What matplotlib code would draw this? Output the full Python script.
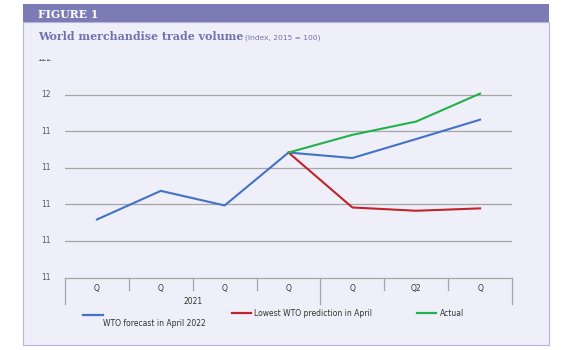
import matplotlib
matplotlib.use("Agg")
import matplotlib.pyplot as plt
from matplotlib.patches import Rectangle
from matplotlib.lines import Line2D
from matplotlib.transforms import Bbox, blended_transform_factory

# data
quarters = ["Q", "Q", "Q", "Q", "Q", "Q2", "Q"]
years = ["2021", ""]
forecast = [113.15, 114.72, 113.92, 116.82, 116.52, 117.56, 118.62]
lowest = [None, None, None, 116.82, 113.81, 113.63, 113.76]
actual = [None, None, None, 116.82, 117.79, 118.52, 120.05]
names = ["WTO forecast in April 2022", "Lowest WTO prediction in April", "Actual"]
colors = ["#4472c4", "#c1232b", "#22b14c"]
yticks = [110, 112, 114, 116, 118, 120, 122]
ytick_labels = ["11", "11", "11", "11", "11", "12", "122"]

W, H = 566, 350
fig = plt.figure(figsize=(W / 100, H / 100), dpi=100)
fig.patch.set_facecolor("white")

def fx(px):
    return px / W

def fy(py):
    return 1 - py / H

# panel + header band
fig.add_artist(Rectangle((fx(23), fy(345)), fx(526), (345 - 22) / H,
                         transform=fig.transFigure, facecolor="#eeeff8",
                         edgecolor="#b4b4e0", lw=0.8, zorder=-10))
fig.add_artist(Rectangle((fx(23), fy(22)), fx(526), 18 / H,
                         transform=fig.transFigure, facecolor="#7b7cb6",
                         edgecolor="none", zorder=-9))
fig.text(fx(38), fy(14), "FIGURE 1", color="white", fontsize=7.8,
         fontweight="bold", family="DejaVu Serif", va="center")
fig.text(fx(38), fy(37), "World merchandise trade volume", color="#7172b0",
         fontsize=7.9, fontweight="bold", family="DejaVu Serif", va="center")
fig.text(fx(245), fy(38), "(Index, 2015 = 100)", color="#7172b0",
         fontsize=5.4, va="center")

ax = fig.add_axes([fx(65), fy(277), fx(512 - 65), (277 - 58) / H])
ax.set_facecolor("none")
x = list(range(len(quarters)))
for vals, c in zip([forecast, lowest, actual], colors):
    xs = [i for i, v in zip(x, vals) if v is not None]
    ys = [v for v in vals if v is not None]
    ax.plot(xs, ys, color=c, lw=1.5, zorder=3)

ax.set_xlim(-0.5, len(quarters) - 0.5)
ax.set_ylim(yticks[0], yticks[-1])
for t in yticks[1:-1]:
    ax.axhline(t, color="#a6a6a6", lw=0.9, zorder=1)
for s in ax.spines.values():
    s.set_visible(False)
ax.set_xticks([])
ax.set_yticks([])

# y labels (top one cut off as in reference)
ylab_tr = blended_transform_factory(fig.transFigure, ax.transData)
for t, lab in zip(yticks, ytick_labels):
    txt = ax.text(fx(51), t, lab, transform=ylab_tr, ha="right", va="center",
                  fontsize=5.5, color="#595959", clip_on=False)
    if t == yticks[-1]:
        txt.set_clip_on(True)
        txt.set_clip_box(Bbox([[0, 0], [W, H - 59]]))

# category axis
xt = blended_transform_factory(ax.transData, fig.transFigure)
ax.plot([-0.5, len(quarters) - 0.5], [fy(278), fy(278)], transform=xt,
        color="#a6a6a6", lw=0.9, clip_on=False)
for i, q in enumerate(quarters):
    ax.text(i, fy(288), q, transform=xt, ha="center", va="center",
            fontsize=5.5, color="#333333")
for b in range(len(quarters) + 1):
    bx = b - 0.5
    bottom = 304 if b in (0, 4, len(quarters)) else 290
    ax.plot([bx, bx], [fy(278), fy(bottom)], transform=xt, color="#a6a6a6",
            lw=0.9, clip_on=False)
ax.text(1.5, fy(302), years[0], transform=xt, ha="center", va="center",
        fontsize=5.5, color="#333333")
ax.text(5, fy(302), years[1], transform=xt, ha="center", va="center",
        fontsize=5.5, color="#333333")

# legend
leg = [(83, 103, 315, 103, 323), (232, 251, 313, 254, 313), (417, 436, 313, 440, 313)]
for (x0, x1, ly, tx, ty), n, c in zip(leg, names, colors):
    fig.add_artist(Line2D([fx(x0), fx(x1)], [fy(ly), fy(ly)],
                          transform=fig.transFigure, color=c, lw=1.6))
    fig.text(fx(tx), fy(ty), n, fontsize=5.5, color="#333333", va="center")

fig.savefig("out.png", dpi=100)
